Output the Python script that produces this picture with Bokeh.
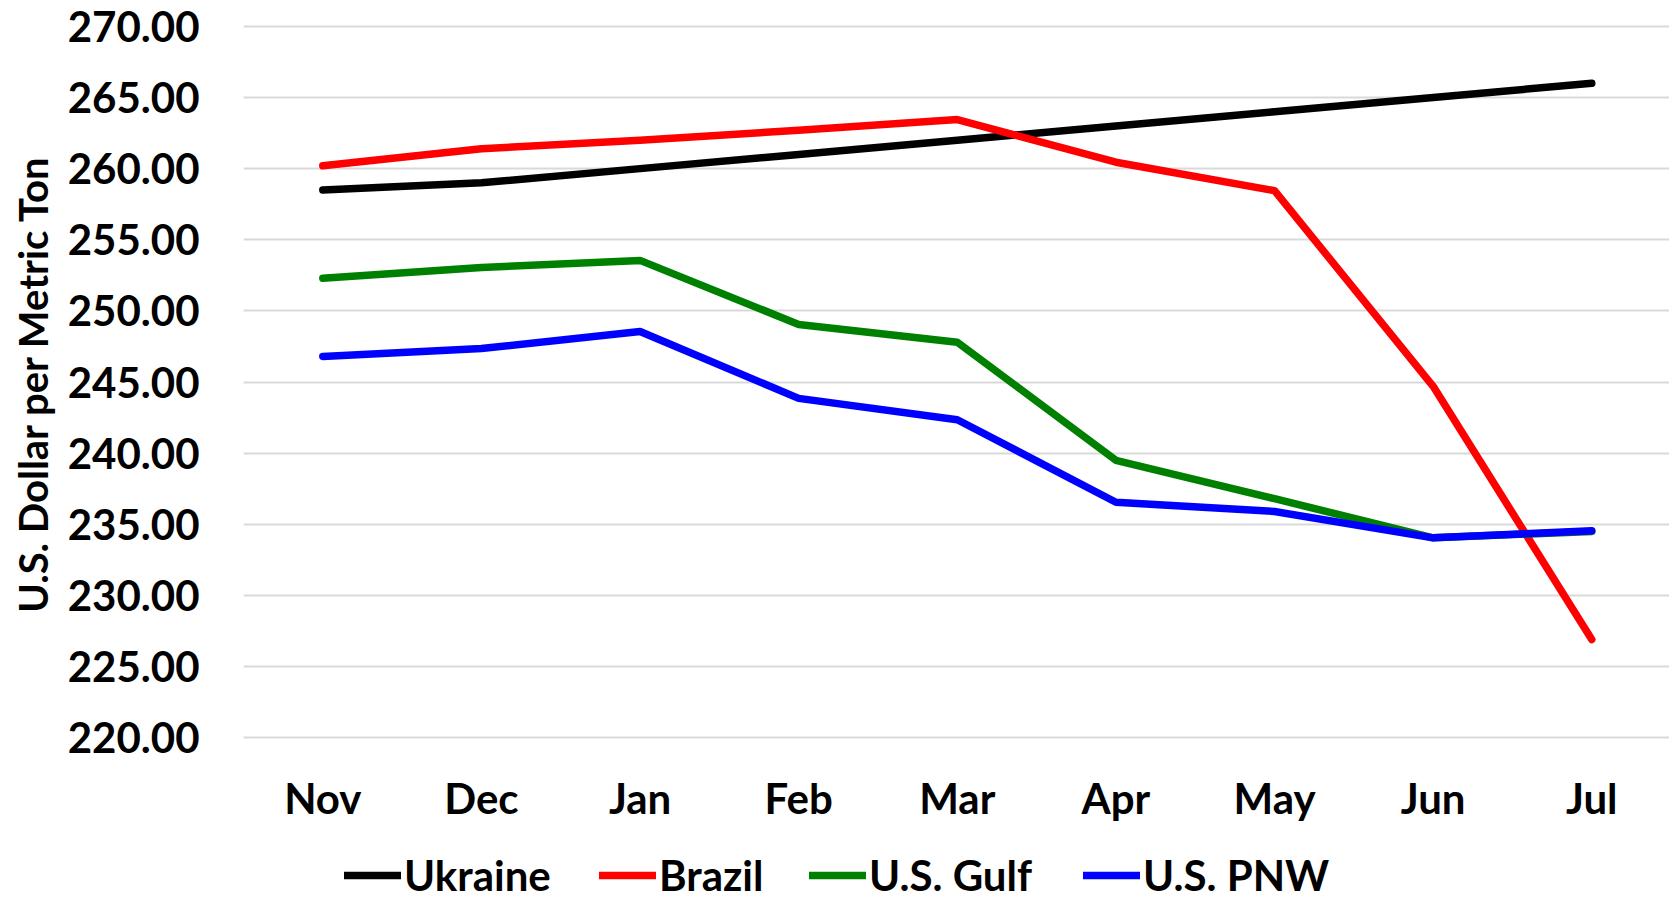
from bokeh.plotting import figure
from bokeh.models import Range1d, FixedTicker, Legend, LegendItem, PrintfTickFormatter, Title
from bokeh.embed import file_html
from bokeh.resources import INLINE

# ---- data ----
months = ["Nov", "Dec", "Jan", "Feb", "Mar", "Apr", "May", "Jun", "Jul"]
ukraine = [258.5, 259.0, 260.0, 261.0, 262.0, 263.0, 264.0, 265.0, 266.0]
brazil = [260.2, 261.4, 262.0, 262.7, 263.45, 260.45, 258.45, 244.7, 226.9]
us_gulf = [252.3, 253.05, 253.55, 249.05, 247.8, 239.5, 236.8, 234.05, 234.5]
us_pnw = [246.8, 247.35, 248.55, 243.85, 242.35, 236.55, 235.9, 234.05, 234.55]
series_names = ["Ukraine", "Brazil", "U.S. Gulf", "U.S. PNW"]
series_colors = ["#000000", "#ff0000", "#008000", "#0000ff"]
y_ticks = [220, 225, 230, 235, 240, 245, 250, 255, 260, 265, 270]
y_title = "U.S. Dollar per Metric Ton"

FONT = "Lato"
x_pos = list(range(len(months)))

# plot area runs down to the page bottom so the legend can sit inside it
p = figure(width=1669, height=899, output_backend="svg", toolbar_location=None,
           x_range=Range1d(-0.5, 8.49), y_range=Range1d(208.63, 270.2),
           min_border_left=243, min_border_right=0, min_border_top=23,
           min_border_bottom=0)
p.outline_line_color = None
p.background_fill_color = "white"
p.border_fill_color = "white"

p.xgrid.visible = False
p.ygrid.grid_line_color = "#d9d9d9"
p.ygrid.grid_line_width = 2

p.yaxis.ticker = FixedTicker(ticks=y_ticks)
p.yaxis.formatter = PrintfTickFormatter(format="%.2f")
p.xaxis.ticker = FixedTicker(ticks=x_pos)
p.xaxis.major_label_overrides = {i: m for i, m in enumerate(months)}
p.xaxis.fixed_location = y_ticks[0]

for ax in (p.xaxis[0], p.yaxis[0]):
    ax.axis_line_color = None
    ax.major_tick_line_color = None
    ax.minor_tick_line_color = None
    ax.major_label_text_font = FONT
    ax.major_label_text_font_style = "bold"
    ax.major_label_text_font_size = "42px"
    ax.major_label_text_color = "black"

p.xaxis.major_label_standoff = 29
p.yaxis.major_label_standoff = 38

# y-axis title, aligned with the 220-270 part of the plot area
ytitle = Title(text=y_title, align="right", offset=131, vertical_align="top", standoff=12,
               text_font=FONT, text_font_style="bold", text_font_size="40px",
               text_color="black")
p.add_layout(ytitle, "left")

all_series = [ukraine, brazil, us_gulf, us_pnw]
renderers = []
for name, vals, col in zip(series_names, all_series, series_colors):
    r = p.line(x_pos, vals, line_width=7.5, line_color=col, line_cap="round", line_join="round")
    renderers.append(r)

legend_x = [101, 356, 566, 840]
for r, name, lx in zip(renderers, series_names, legend_x):
    lg = Legend(items=[LegendItem(label=name, renderers=[r])], location=(lx, -1),
                orientation="horizontal", padding=0, margin=0, spacing=0,
                glyph_width=57, glyph_height=40, label_standoff=3,
                label_text_font=FONT, label_text_font_style="bold",
                label_text_font_size="42px", label_text_color="black",
                border_line_color=None, background_fill_alpha=0)
    p.add_layout(lg, "center")

open("out.html", "w").write(file_html(p, INLINE))
